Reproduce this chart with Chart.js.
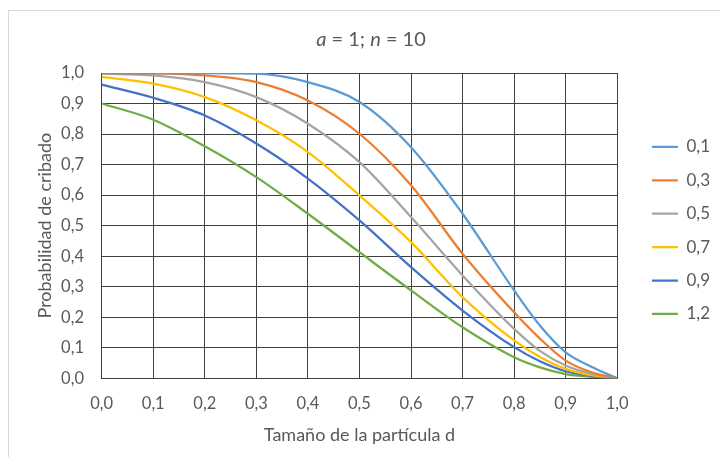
<!DOCTYPE html>
<html>
<head>
<meta charset="utf-8">
<script src="https://cdn.jsdelivr.net/npm/chart.js@4.4.1/dist/chart.umd.min.js"></script>
<style>
  html, body { margin: 0; padding: 0; background: #fff; }
  #wrap { position: relative; width: 720px; height: 457px; overflow: hidden; }
  #frame { position: absolute; left: 8px; top: 10px; width: 740px; height: 480px; border: 1px solid #d9d9d9; }
  canvas { position: absolute; left: 0; top: 0; }
</style>
</head>
<body>
<div id="wrap">
  <div id="frame"></div>
  <canvas id="chart" width="720" height="457"></canvas>
</div>
<script>
/* ===== DATA ===== */
const xValues = [0, 0.1, 0.2, 0.3, 0.4, 0.5, 0.6, 0.7, 0.8, 0.85, 0.9, 0.95, 1.0];
const seriesLabels = ['0,1', '0,3', '0,5', '0,7', '0,9', '1,2'];
const s01 = [1.000, 1.000, 1.000, 0.998, 0.970, 0.905, 0.757, 0.539, 0.288, 0.173, 0.085, 0.038, 0];
const s03 = [1.000, 0.999, 0.992, 0.970, 0.910, 0.801, 0.632, 0.408, 0.216, 0.130, 0.058, 0.020, 0];
const s05 = [0.998, 0.992, 0.970, 0.921, 0.834, 0.708, 0.528, 0.337, 0.162, 0.090, 0.042, 0.015, 0];
const s07 = [0.987, 0.965, 0.921, 0.845, 0.741, 0.599, 0.446, 0.266, 0.124, 0.070, 0.031, 0.010, 0];
const s09 = [0.962, 0.919, 0.861, 0.769, 0.654, 0.517, 0.364, 0.222, 0.102, 0.056, 0.023, 0.008, 0];
const s12 = [0.900, 0.847, 0.760, 0.659, 0.539, 0.413, 0.288, 0.167, 0.069, 0.036, 0.014, 0.005, 0];
const seriesValues = [s01, s03, s05, s07, s09, s12];
const seriesColors = ['#5B9BD5', '#ED7D31', '#A5A5A5', '#FFC000', '#4472C4', '#70AD47'];

const FONT = 'Lato, "Open Sans", sans-serif';
const TEXT = '#595959';
const GRID = '#404040';
const fmt = v => Number(v).toFixed(1).replace('.', ',');

/* ===== TITLE (mixed italic) ===== */
const titleParts = [['a', true], [' = 1; ', false], ['n', true], [' = 10', false]];
const titlePlugin = {
  id: 'mixedTitle',
  afterDraw(chart) {
    const ctx = chart.ctx;
    const size = 20;
    ctx.save();
    ctx.fillStyle = TEXT;
    ctx.textBaseline = 'middle';
    let total = 0;
    titleParts.forEach(([t, it]) => {
      ctx.font = (it ? 'italic ' : '') + size + 'px ' + FONT;
      total += ctx.measureText(t).width;
    });
    let x = 371 - total / 2;
    titleParts.forEach(([t, it]) => {
      ctx.font = (it ? 'italic ' : '') + size + 'px ' + FONT;
      ctx.fillText(t, x, 40);
      x += ctx.measureText(t).width;
    });
    ctx.restore();
  }
};

/* ===== CHART ===== */
const datasets = seriesValues.map((vals, i) => ({
  label: seriesLabels[i],
  data: xValues.map((x, j) => ({ x: x, y: vals[j] })),
  borderColor: seriesColors[i],
  backgroundColor: seriesColors[i],
  borderWidth: 2.25,
  pointRadius: 0,
  fill: false,
  cubicInterpolationMode: 'monotone'
}));

new Chart(document.getElementById('chart'), {
  type: 'line',
  data: { datasets },
  plugins: [titlePlugin],
  options: {
    responsive: false,
    animation: false,
    devicePixelRatio: 1,
    layout: { padding: { top: 73, right: 0, bottom: 11, left: 0 } },
    plugins: {
      title: { display: false },
      tooltip: { enabled: false },
      legend: {
        position: 'right',
        align: 'start',
        title: { display: true, text: '', font: { size: 10 }, padding: { top: 37, bottom: 0 } },
        labels: {
          usePointStyle: true,
          pointStyle: 'line',
          pointStyleWidth: 26,
          padding: 16.4,
          color: TEXT,
          font: { family: FONT, size: 17 },
          sort: (a, b) => a.datasetIndex - b.datasetIndex
        }
      }
    },
    scales: {
      x: {
        type: 'linear',
        min: 0, max: 1,
        ticks: { stepSize: 0.1, callback: fmt, color: TEXT, font: { family: FONT, size: 16.5 }, padding: 15, maxRotation: 0 },
        grid: { color: GRID, lineWidth: 1, drawTicks: false },
        border: { color: GRID, width: 1 },
        title: { display: true, text: 'Tamaño de la partícula d', color: TEXT, font: { family: FONT, size: 18 }, padding: { top: 2, bottom: 0 } },
        afterFit: s => { s.height = 67.7; }
      },
      y: {
        min: 0, max: 1,
        ticks: { stepSize: 0.1, callback: fmt, color: TEXT, font: { family: FONT, size: 16.5 }, padding: 17.7 },
        grid: { color: GRID, lineWidth: 1, drawTicks: false },
        border: { color: GRID, width: 1 },
        title: { display: true, text: 'Probabilidad de cribado', color: TEXT, font: { family: FONT, size: 18 }, padding: { top: 34, bottom: 0 } },
        afterFit: s => { s.width = 101.7; }
      },
      gap: {
        position: 'right',
        min: 0, max: 1,
        ticks: { display: false },
        grid: { display: false },
        border: { display: false },
        afterFit: s => { s.width = 18.3; }
      }
    }
  }
});
</script>
</body>
</html>
